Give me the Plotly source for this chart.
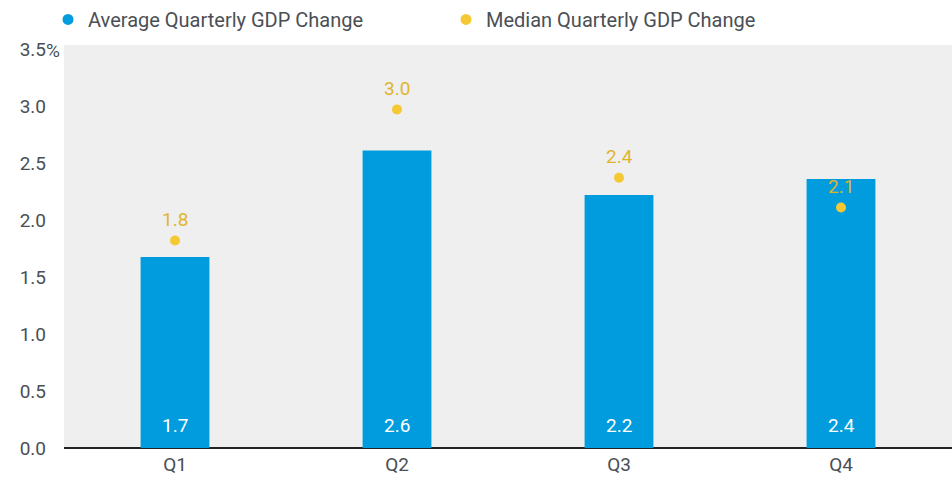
import plotly.graph_objects as go

quarters = ["Q1", "Q2", "Q3", "Q4"]
avg_change = [1.675, 2.61, 2.22, 2.36]
avg_labels = ["1.7", "2.6", "2.2", "2.4"]
median_change = [1.82, 2.97, 2.37, 2.11]
median_labels = ["1.8", "3.0", "2.4", "2.1"]
y_ticks = [0, 0.5, 1.0, 1.5, 2.0, 2.5, 3.0, 3.5]
y_tick_labels = ["0.0", "0.5", "1.0", "1.5", "2.0", "2.5", "3.0", "3.5"]
y_unit = "%"

BLUE = "#009CDE"
GOLD = "#F4C933"
GOLD_TEXT = "#E0B52E"
FONT = "Roboto, sans-serif"
GRAY = "#4A4F55"

fig = go.Figure()
fig.add_trace(go.Bar(
    x=quarters, y=avg_change,
    marker=dict(color=BLUE, line=dict(width=0)), width=0.31, showlegend=False,
    hoverinfo="skip",
))
fig.add_trace(go.Scatter(
    x=quarters, y=median_change, mode="markers",
    marker=dict(color=GOLD, size=10), showlegend=False, cliponaxis=False,
))
# bar value labels near the base
for q, lab in zip(quarters, avg_labels):
    fig.add_annotation(x=q, y=0, text=lab, showarrow=False, yanchor="middle",
                       yshift=23, font=dict(color="white", size=19, family=FONT))
# median value labels above the dots
for q, v, lab in zip(quarters, median_change, median_labels):
    fig.add_annotation(x=q, y=v, text=lab, showarrow=False, yanchor="middle",
                       yshift=21, font=dict(color=GOLD_TEXT, size=19, family=FONT))
# unit suffix on top tick
fig.add_annotation(xref="paper", x=0, y=y_ticks[-1], text=y_unit, showarrow=False,
                   xanchor="left", yanchor="middle", xshift=-20, yshift=-2,
                   font=dict(color=GRAY, size=19, family=FONT))

# legend entries
fig.add_trace(go.Scatter(x=[None], y=[None], mode="markers", name="Average Quarterly GDP Change",
                         marker=dict(color=BLUE, size=11)))
fig.add_trace(go.Scatter(x=[None], y=[None], mode="markers", name="Median Quarterly GDP Change",
                         marker=dict(color=GOLD, size=11)))

fig.update_layout(
    width=952, height=483,
    margin=dict(l=64, r=0, t=45, b=35, autoexpand=False),
    paper_bgcolor="white", plot_bgcolor="#EFEFEF",
    font=dict(family=FONT, size=19, color=GRAY),
    legend=dict(orientation="h", x=-0.018, xanchor="left", y=1.015, yanchor="bottom",
                xref="paper", yref="paper", entrywidth=353, entrywidthmode="pixels",
                itemwidth=30, font=dict(size=20, color=GRAY), bgcolor="rgba(0,0,0,0)",
                tracegroupgap=0),
    xaxis=dict(showgrid=False, showline=False, ticks="", tickfont=dict(size=19, color=GRAY),
               ticklabelstandoff=3),
    yaxis=dict(range=[0, 3.535], tickvals=y_ticks, ticktext=y_tick_labels, showgrid=False,
               zeroline=True, zerolinecolor="#222222", zerolinewidth=1.5,
               ticks="", tickfont=dict(size=19, color=GRAY), ticklabelstandoff=17),
)
fig.write_html("out.html", config={"displayModeBar": False},
               post_script="document.body.style.margin='0';")
